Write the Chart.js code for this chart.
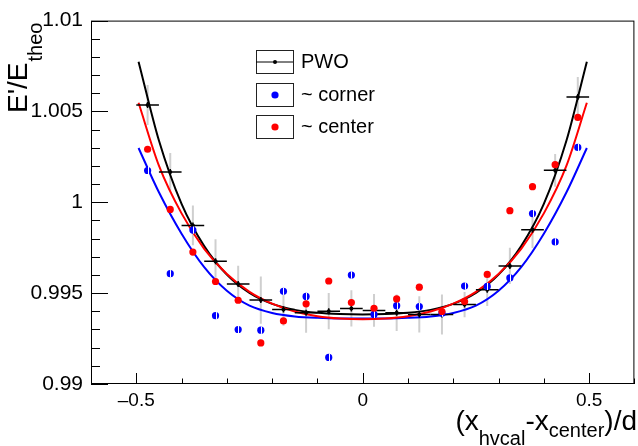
<!DOCTYPE html>
<html><head><meta charset="utf-8">
<script src="https://cdn.jsdelivr.net/npm/chart.js@4.4.1/dist/chart.umd.min.js"></script>
<style>html,body{margin:0;padding:0;background:#fff;}canvas{display:block;}</style>
</head><body>
<canvas id="c" width="638" height="446"></canvas>
<script>
// ---- data ----
const binCenters = [-0.475,-0.425,-0.375,-0.325,-0.275,-0.225,-0.175,-0.125,-0.075,-0.025,
                     0.025, 0.075, 0.125, 0.175, 0.225, 0.275, 0.325, 0.375, 0.425, 0.475];
const binHalfWidth = 0.025;
const pwoValues = [1.00535,1.00167,0.99873,0.99676,0.99551,0.99462,0.99410,0.99392,0.99401,0.99416,
                   0.99405,0.99392,0.99383,0.99383,0.99437,0.99519,0.99650,0.99849,1.00176,1.00579];
const pwoErrors = [0.0011,0.00105,0.0011,0.0012,0.0010,0.0013,0.0009,0.0011,0.0010,0.0010,
                   0.0009,0.0010,0.0010,0.0011,0.0007,0.0009,0.0010,0.0010,0.0009,0.0011];
const cornerValues = [1.00175,0.99607,0.99847,0.99376,0.99300,0.99296,0.99510,0.99482,0.99146,0.99600,
                      0.99383,0.99431,0.99426,0.99390,0.99539,0.99537,0.99584,0.99938,0.99782,1.00302];
const centerValues = [1.00292,0.99961,0.99726,0.99564,0.99461,0.99226,0.99347,0.99441,0.99567,0.99448,
                      0.99417,0.99468,0.99533,0.99399,0.99454,0.99603,0.99954,1.00086,1.00207,1.00467];
const fitX = [-0.495,-0.45,-0.4,-0.35,-0.3,-0.25,-0.2,-0.15,-0.1,-0.05,0,
               0.05,0.1,0.15,0.2,0.25,0.3,0.35,0.4,0.45,0.495];
const pwoFit = [1.00774,1.00340,0.99991,0.99759,0.99602,0.99501,0.99441,0.99408,0.99392,0.99385,0.99383,
                0.99385,0.99392,0.99408,0.99441,0.99501,0.99602,0.99759,0.99991,1.00340,1.00774];
const centerFit = [1.00548,1.00202,0.99939,0.99744,0.99605,0.99507,0.99442,0.99399,0.99373,0.99360,0.99356,
                   0.99360,0.99373,0.99399,0.99442,0.99507,0.99605,0.99744,0.99939,1.00202,1.00548];
const cornerFit = [1.00299,1.00055,0.99827,0.99643,0.99513,0.99431,0.99391,0.99372,0.99364,0.99361,0.99361,
                   0.99361,0.99364,0.99372,0.99391,0.99431,0.99513,0.99643,0.99827,1.00055,1.00299];
const xTickValues = [-0.5, 0, 0.5];
const yTickValues = [0.99, 0.995, 1, 1.005, 1.01];
const legendLabels = ['PWO', '~ corner', '~ center'];

const FONT = "'Liberation Sans', Arial, Helvetica, sans-serif";
const pts = (vals) => binCenters.map((x, i) => ({x, y: vals[i]}));
const curve = (vals) => fitX.map((x, i) => ({x, y: vals[i]}));

const rootPlugin = {
  id: 'rootStyle',
  beforeDatasetsDraw(chart) {
    const {ctx, chartArea: a, scales: {x, y}} = chart;
    ctx.save();
    ctx.beginPath(); ctx.rect(a.left, a.top, a.right - a.left, a.bottom - a.top); ctx.clip();
    ctx.strokeStyle = '#cfcfcf'; ctx.lineWidth = 2;
    binCenters.forEach((b, i) => {
      const px = x.getPixelForValue(b);
      ctx.beginPath();
      ctx.moveTo(px, y.getPixelForValue(pwoValues[i] - pwoErrors[i]));
      ctx.lineTo(px, y.getPixelForValue(pwoValues[i] + pwoErrors[i]));
      ctx.stroke();
    });
    ctx.restore();
  },
  beforeDatasetDraw(chart, args) {
    if (args.index !== 2) return;
    const {ctx, scales: {x, y}} = chart;
    ctx.save();
    ctx.strokeStyle = '#000'; ctx.lineWidth = 1.5;
    binCenters.forEach((b, i) => {
      const py = y.getPixelForValue(pwoValues[i]);
      const px = x.getPixelForValue(b);
      ctx.beginPath();
      ctx.moveTo(x.getPixelForValue(b - binHalfWidth), py);
      ctx.lineTo(x.getPixelForValue(b + binHalfWidth), py);
      ctx.moveTo(px, py - 3); ctx.lineTo(px, py + 3);
      ctx.stroke();
    });
    ctx.restore();
  },
  afterDatasetDraw(chart, args) {
    if (args.index !== 1) return;
    const {ctx, scales: {x, y}} = chart;
    ctx.save();
    ctx.strokeStyle = '#fff'; ctx.lineWidth = 1;
    binCenters.forEach((b, i) => {
      const px = Math.round(x.getPixelForValue(b)) + 0.5;
      const py = y.getPixelForValue(cornerValues[i]);
      ctx.beginPath(); ctx.moveTo(px, py - 3.6); ctx.lineTo(px, py + 3.6); ctx.stroke();
    });
    ctx.restore();
  },
  afterDraw(chart) {
    const {ctx, chartArea: a, scales: {x, y}} = chart;
    ctx.save();
    // frame
    ctx.strokeStyle = '#000'; ctx.lineWidth = 1;
    ctx.strokeRect(a.left + 0.5, a.top + 0.5, a.right - a.left - 1, a.bottom - a.top - 1);
    // y ticks (inward)
    for (let i = 0; i <= 20; i++) {
      const v = 0.99 + i * 0.001;
      const py = Math.round(y.getPixelForValue(v)) + 0.5;
      const len = (i % 5 === 0) ? 17 : 9;
      ctx.beginPath(); ctx.moveTo(a.left, py); ctx.lineTo(a.left + len, py); ctx.stroke();
    }
    // x ticks (inward)
    for (let i = -6; i <= 6; i++) {
      const v = i * 0.1;
      const px = Math.round(x.getPixelForValue(v)) + 0.5;
      const len = (i % 5 === 0) ? 11 : 5.5;
      ctx.beginPath(); ctx.moveTo(px, a.bottom); ctx.lineTo(px, a.bottom - len); ctx.stroke();
    }
    // legend
    const boxX = 256, boxW = 37, boxH = 23, tops = [50, 82.5, 115];
    ctx.lineWidth = 1; ctx.strokeStyle = '#222';
    tops.forEach((t, k) => {
      ctx.strokeRect(boxX + 0.5, Math.round(t) + 0.5, boxW, boxH);
      const cy = Math.round(t) + 0.5 + boxH / 2, cx = boxX + 0.5 + boxW / 2;
      if (k === 0) {
        ctx.strokeStyle = '#000';
        ctx.beginPath(); ctx.moveTo(boxX, cy); ctx.lineTo(boxX + boxW, cy); ctx.stroke();
        ctx.fillStyle = '#000'; ctx.beginPath(); ctx.arc(cx, cy, 2, 0, Math.PI * 2); ctx.fill();
        ctx.strokeStyle = '#222';
      } else {
        ctx.fillStyle = k === 1 ? '#0000ff' : '#ff0000';
        ctx.beginPath(); ctx.arc(cx, cy, 3.6, 0, Math.PI * 2); ctx.fill();
      }
      ctx.fillStyle = '#000'; ctx.font = '20px ' + FONT; ctx.textBaseline = 'middle'; ctx.textAlign = 'left';
      ctx.fillText(legendLabels[k], 301, cy);
    });
    // y-axis title (rotated)
    ctx.save();
    ctx.translate(27, 113); ctx.rotate(-Math.PI / 2);
    ctx.textBaseline = 'alphabetic'; ctx.textAlign = 'left'; ctx.fillStyle = '#000';
    ctx.font = '28px ' + FONT; ctx.fillText("E'/E", 0, 0);
    const w1 = ctx.measureText("E'/E").width;
    ctx.font = '20px ' + FONT; ctx.fillText('theo', w1 + 1, 15);
    ctx.restore();
    // x-axis title
    const segs = [['(', 28, 0], ['x', 28, 0], ['hvcal', 20, 15], ['-', 28, 0], ['x', 28, 0], ['center', 20, 7], [')/d', 28, 0]];
    let total = 0;
    segs.forEach(s => { ctx.font = s[1] + 'px ' + FONT; total += ctx.measureText(s[0]).width; });
    let cx = 637 - total; const base = 430;
    ctx.textBaseline = 'alphabetic'; ctx.textAlign = 'left';
    segs.forEach(s => { ctx.font = s[1] + 'px ' + FONT; ctx.fillText(s[0], cx, base + s[2]); cx += ctx.measureText(s[0]).width; });
    ctx.restore();
  }
};

new Chart(document.getElementById('c'), {
  type: 'line',
  data: {
    datasets: [
      {label: '~ center', data: pts(centerValues), showLine: false, pointRadius: 3.6, pointHoverRadius: 3.6,
       pointBackgroundColor: '#ff0000', pointBorderWidth: 0, borderColor: '#ff0000'},
      {label: '~ corner', data: pts(cornerValues), showLine: false, pointRadius: 3.6, pointHoverRadius: 3.6,
       pointBackgroundColor: '#0000ff', pointBorderWidth: 0, borderColor: '#0000ff'},
      {label: 'PWO', data: pts(pwoValues), showLine: false, pointRadius: 2, pointHoverRadius: 2,
       pointBackgroundColor: '#000', pointBorderWidth: 0, borderColor: '#000'},
      {label: 'center fit', data: curve(centerFit), borderColor: '#ff0000', borderWidth: 2, pointRadius: 0,
       cubicInterpolationMode: 'monotone', fill: false},
      {label: 'PWO fit', data: curve(pwoFit), borderColor: '#000', borderWidth: 2, pointRadius: 0,
       cubicInterpolationMode: 'monotone', fill: false},
      {label: 'corner fit', data: curve(cornerFit), borderColor: '#0000ff', borderWidth: 2, pointRadius: 0,
       cubicInterpolationMode: 'monotone', fill: false}
    ]
  },
  options: {
    responsive: false, animation: false, devicePixelRatio: 1,
    layout: {padding: {left: 0, right: 3, top: 15, bottom: 0}},
    plugins: {legend: {display: false}, tooltip: {enabled: false}},
    scales: {
      x: {
        type: 'linear', min: -0.6, max: 0.6,
        grid: {display: false, drawTicks: false}, border: {display: false},
        afterBuildTicks: s => { s.ticks = xTickValues.map(v => ({value: v})); },
        afterFit: s => { s.height = 62; },
        ticks: {padding: 5, color: '#000', font: {family: FONT, size: 19}, maxRotation: 0,
                callback: v => (v < 0 ? '\u2013' : '') + String(Math.abs(v))}
      },
      y: {
        type: 'linear', min: 0.99, max: 1.01,
        grid: {display: false, drawTicks: false}, border: {display: false},
        afterBuildTicks: s => { s.ticks = yTickValues.map(v => ({value: v})); },
        afterFit: s => { s.width = 91; },
        ticks: {padding: 8, color: '#000', font: {family: FONT, size: 21},
                callback: v => String(parseFloat(Number(v).toFixed(3)))}
      }
    }
  },
  plugins: [rootPlugin]
});
</script>
</body></html>
